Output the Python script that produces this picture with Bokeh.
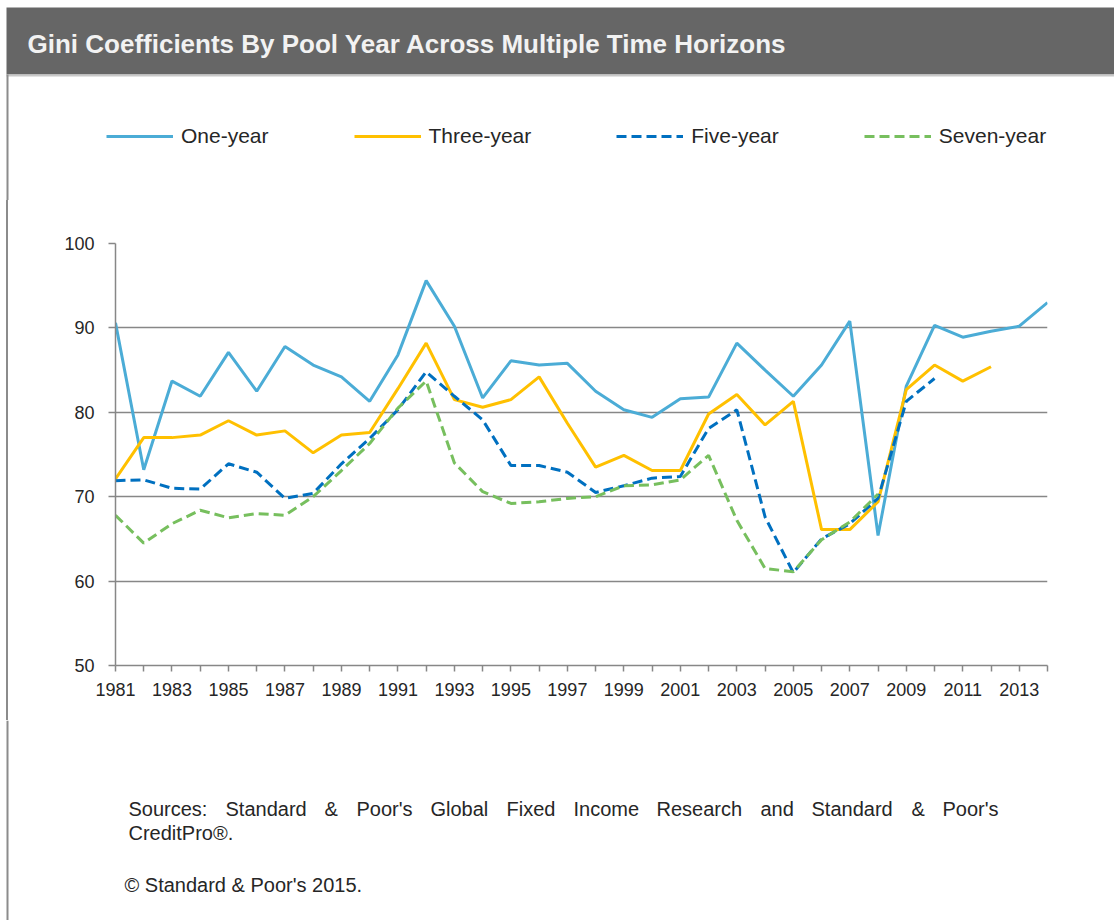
from bokeh.plotting import figure
from bokeh.layouts import column, row
from bokeh.models import (BoxAnnotation, Label, Legend, LegendItem, FixedTicker,
                          Range1d, Div)
from bokeh.embed import file_html
from bokeh.resources import INLINE

# ---------------- data ----------------
title_text = "Gini Coefficients By Pool Year Across  Multiple Time Horizons"
series_names = ["One-year", "Three-year", "Five-year", "Seven-year"]

years_one = list(range(1981, 2015))
one_year = [90.6, 73.2, 83.7, 81.9, 87.1, 82.5, 87.8, 85.6, 84.2, 81.3,
            86.8, 95.6, 90.2, 81.7, 86.1, 85.6, 85.8, 82.5, 80.3, 79.4,
            81.6, 81.8, 88.2, 85.0, 81.9, 85.6, 90.8, 65.4, 83.1, 90.3,
            88.9, 89.6, 90.2, 93.0]

years_three = list(range(1981, 2013))
three_year = [72.1, 77.0, 77.0, 77.3, 79.0, 77.3, 77.8, 75.2, 77.3, 77.6,
              82.8, 88.2, 81.5, 80.6, 81.5, 84.2, 78.7, 73.5, 74.9, 73.1,
              73.1, 79.8, 82.1, 78.5, 81.3, 66.1, 66.1, 69.4, 82.7, 85.6,
              83.7, 85.4]

years_five = list(range(1981, 2011))
five_year = [71.9, 72.0, 71.0, 70.9, 73.9, 72.9, 69.8, 70.4, 73.9, 76.9,
             80.3, 84.8, 81.9, 79.1, 73.7, 73.7, 72.9, 70.5, 71.3, 72.2,
             72.4, 78.1, 80.3, 67.6, 61.0, 65.0, 66.8, 69.8, 81.3, 84.0]

years_seven = list(range(1981, 2009))
seven_year = [67.8, 64.5, 66.8, 68.4, 67.5, 68.0, 67.8, 70.0, 73.1, 76.3,
              80.5, 83.7, 74.0, 70.6, 69.2, 69.4, 69.8, 70.0, 71.3, 71.4,
              72.0, 74.9, 67.2, 61.5, 61.1, 64.9, 67.0, 70.3]

y_ticks = [50, 60, 70, 80, 90, 100]
x_label_years = list(range(1981, 2014, 2))
x_minor_years = list(range(1982, 2015, 2))

source_words = ["Sources:", "Standard", "&", "Poor's", "Global", "Fixed",
                "Income", "Research", "and", "Standard", "&", "Poor's"]
source_line2 = "CreditPro\u00ae."
copyright_text = "\u00a9 Standard & Poor's 2015."

# ---------------- styling ----------------
FONT = "Liberation Sans"
TXT = "#262626"
BORDER = "#8c8c8c"
c_one, c_three, c_five, c_seven = "#4BACD6", "#FFC000", "#0070C0", "#77BF5E"
DASH = "10 5"

PAGE_W = 1114
TOP_H, MAIN_H, FOOT_H = 200, 520, 200


def blank_fig(w, h):
    f = figure(width=w, height=h, output_backend="svg", toolbar_location=None,
               x_range=Range1d(0, w), y_range=Range1d(0, h),
               x_axis_type=None, y_axis_type=None,
               min_border=0, min_border_left=0, min_border_right=0,
               min_border_top=0, min_border_bottom=0,
               outline_line_color=None, background_fill_color="white",
               border_fill_color="white")
    f.xgrid.visible = False
    f.ygrid.visible = False
    return f


def sbox(f, left, right, bottom, top, color):
    f.add_layout(BoxAnnotation(left=left, right=right, bottom=bottom, top=top,
                               left_units="screen", right_units="screen",
                               bottom_units="screen", top_units="screen",
                               fill_color=color, fill_alpha=1, line_color=None))


def add_series(f):
    r1 = f.line(years_one, one_year, line_color=c_one, line_width=3)
    r3 = f.line(years_three, three_year, line_color=c_three, line_width=3)
    r5 = f.line(years_five, five_year, line_color=c_five, line_width=3,
                line_dash=DASH)
    r7 = f.line(years_seven, seven_year, line_color=c_seven, line_width=3,
                line_dash=DASH)
    return [r1, r3, r5, r7]


# ---------- header: title bar + legend ----------
top = blank_fig(PAGE_W, TOP_H)
sbox(top, 6, PAGE_W, TOP_H - 74, TOP_H - 7, "#666666")
sbox(top, 6, PAGE_W, TOP_H - 76, TOP_H - 74, "#c8c8c8")
sbox(top, 6, 8, 0, TOP_H - 74, BORDER)
top.add_layout(Label(x=27, y=TOP_H - 43, x_units="screen", y_units="screen",
                     text=title_text, text_font=FONT, text_font_style="bold",
                     text_font_size="26px", text_color="#f2f2f2",
                     text_baseline="middle", text_align="left"))

# legend renderers (same series; they fall outside this header's ranges)
legend_renderers = add_series(top)
legend = Legend(items=[LegendItem(label=n, renderers=[r])
                       for n, r in zip(series_names, legend_renderers)],
                location=(106, TOP_H - 138 - 10), orientation="horizontal",
                glyph_width=67, glyph_height=20, label_standoff=8,
                label_text_font=FONT, label_text_font_size="21px",
                label_text_color=TXT, label_height=20,
                padding=0, margin=0, spacing=85,
                border_line_alpha=0, background_fill_alpha=0)
top.add_layout(legend)

# ---------- left border strip beside the main chart ----------
strip = Div(width=8, height=MAIN_H, margin=0,
            text='<div style="width:2px;height:%dpx;margin:0 0 0 6px;'
                 'padding:0;background:%s"></div>' % (MAIN_H, BORDER))

# ---------- main chart ----------
MW = PAGE_W - 8
p = figure(width=MW, height=MAIN_H, output_backend="svg", toolbar_location=None,
           x_range=Range1d(1981, 2014), y_range=Range1d(50, 100),
           min_border_left=107, min_border_right=67,
           min_border_top=43, min_border_bottom=55,
           background_fill_color="white", border_fill_color="white",
           outline_line_color=None, margin=0)

grid_col = "#878787"
p.xaxis.ticker = FixedTicker(ticks=x_label_years, minor_ticks=x_minor_years)
p.yaxis.ticker = FixedTicker(ticks=y_ticks)
for ax in (p.xaxis[0], p.yaxis[0]):
    ax.axis_line_color = grid_col
    ax.axis_line_width = 1.5
    ax.major_tick_line_color = grid_col
    ax.minor_tick_line_color = grid_col
    ax.major_tick_line_width = 1.5
    ax.minor_tick_line_width = 1.5
    ax.major_tick_in = 0
    ax.minor_tick_in = 0
    ax.major_label_text_font = FONT
    ax.major_label_text_font_size = "18px"
    ax.major_label_text_color = TXT
p.xaxis.major_tick_out = 6
p.xaxis.minor_tick_out = 6
p.xaxis.major_label_standoff = 11
p.yaxis.major_tick_out = 7
p.yaxis.minor_tick_out = 0
p.yaxis.major_label_standoff = 14

p.xgrid.grid_line_color = None
p.ygrid.ticker = FixedTicker(ticks=y_ticks)
p.ygrid.grid_line_color = grid_col
p.ygrid.grid_line_width = 1.5

add_series(p)

# ---------- footer ----------
foot = blank_fig(PAGE_W, FOOT_H)
sbox(foot, 6, 8, 0, FOOT_H, BORDER)
FOOT_TOP = TOP_H + MAIN_H


def fy(page_y):
    return FOOT_H - (page_y - FOOT_TOP)


# justified first line: word start positions
word_x = [128, 225, 324, 356, 430, 506, 573, 656, 760, 811, 911, 942]
for wx, wtext in zip(word_x, source_words):
    foot.add_layout(Label(x=wx, y=fy(808), x_units="screen", y_units="screen",
                          text=wtext, text_font=FONT, text_font_size="20px",
                          text_color=TXT, text_baseline="middle"))
foot.add_layout(Label(x=128, y=fy(832), x_units="screen", y_units="screen",
                      text=source_line2, text_font=FONT, text_font_size="20px",
                      text_color=TXT, text_baseline="middle"))
foot.add_layout(Label(x=124, y=fy(884), x_units="screen", y_units="screen",
                      text=copyright_text, text_font=FONT, text_font_size="20px",
                      text_color=TXT, text_baseline="middle"))

layout = column(top, row(strip, p, spacing=0, margin=0), foot, spacing=0)
open("out.html", "w").write(file_html(layout, INLINE))
